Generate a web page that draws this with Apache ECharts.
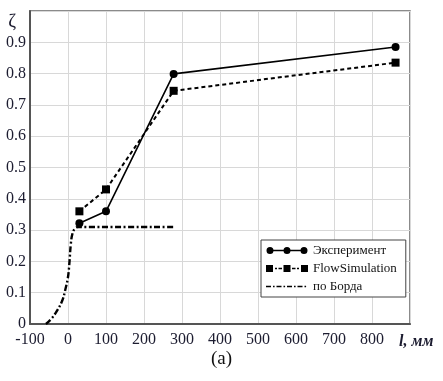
<!DOCTYPE html>
<html>
<head>
<meta charset="utf-8">
<script src="https://cdn.jsdelivr.net/npm/echarts@6/dist/echarts.min.js"></script>
<style>
html,body{margin:0;padding:0;background:#fff;}
#c{width:443px;height:381px;}
</style>
</head>
<body>
<div id="c"></div>
<script>
var expX = [30, 100, 278, 862];
var expY = [0.322, 0.36, 0.799, 0.885];
var flowX = [30, 100, 278, 862];
var flowY = [0.36, 0.43, 0.745, 0.835];
var bordaX = [-58, -45, -30, -15, -7, 0, 4, 7, 11, 18, 28, 280];
var bordaY = [0, 0.015, 0.04, 0.075, 0.11, 0.15, 0.2, 0.25, 0.285, 0.305, 0.31, 0.31];
var seriesNames = ['Эксперимент', 'FlowSimulation', 'по Борда'];
var xTicks = {min: -100, max: 900, step: 100};
var yTicks = {min: 0, max: 1, step: 0.1};

function zip(a, b) { return a.map(function (v, i) { return [v, b[i]]; }); }

var corners = 'M0,0h0.01v0.01h-0.01Z M41.99,7.99h0.01v0.01h-0.01Z ';
function circ(cx, cy, r) {
  return 'M' + (cx - r) + ',' + cy + ' a' + r + ',' + r + ' 0 1,1 ' + (2 * r) + ',0 a' + r + ',' + r + ' 0 1,1 ' + (-2 * r) + ',0 Z ';
}
function rect(x, y, w, h) { return 'M' + x + ',' + y + 'h' + w + 'v' + h + 'h' + (-w) + 'Z '; }
var iconExp = 'path://' + corners + circ(4, 4, 3.5) + circ(21, 4, 3.5) + circ(38, 4, 3.5) + rect(4, 3.3, 34, 1.4);
var iconFlow = 'path://' + corners + rect(0, 0.5, 7, 7) + rect(17.5, 0.5, 7, 7) + rect(35, 0.5, 7, 7)
  + rect(9, 3.2, 2, 1.6) + rect(12.5, 3.2, 3.5, 1.6) + rect(26, 3.2, 3.5, 1.6) + rect(31, 3.2, 2, 1.6);
var iconBorda = 'path://' + corners + rect(0, 3.2, 5, 1.6) + rect(7, 3.2, 1.6, 1.6) + rect(10.5, 3.2, 5, 1.6)
  + rect(17.5, 3.2, 1.6, 1.6) + rect(21, 3.2, 5, 1.6) + rect(28, 3.2, 1.6, 1.6) + rect(31.5, 3.2, 5, 1.6) + rect(38.5, 3.2, 1.6, 1.6);

var serif = 'Liberation Serif';
var labelColor = '#1c1c30';

var chart = echarts.init(document.getElementById('c'), null, {renderer: 'canvas'});
chart.setOption({
  animation: false,
  backgroundColor: '#fff',
  title: {
    text: '(a)', left: 206, top: 345,
    textStyle: {fontFamily: serif, fontSize: 19, fontWeight: 'normal', color: '#111'}
  },
  grid: {left: 30, right: 33, top: 11, bottom: 57, outerBoundsMode: 'none', containLabel: false,
    show: true, borderColor: '#666', borderWidth: 1.5, backgroundColor: 'transparent'},
  legend: {
    orient: 'vertical', left: 261, top: 240,
    padding: [4, 9, 4, 5], itemGap: 5, itemWidth: 42, itemHeight: 8,
    borderColor: '#444', borderWidth: 1, backgroundColor: '#fff',
    textStyle: {fontFamily: serif, fontSize: 13, color: '#111', lineHeight: 13},
    data: [
      {name: seriesNames[0], icon: iconExp},
      {name: seriesNames[1], icon: iconFlow},
      {name: seriesNames[2], icon: iconBorda}
    ]
  },
  xAxis: {
    type: 'value', min: xTicks.min, max: xTicks.max, interval: xTicks.step,
    name: 'l, мм', nameLocation: 'end', nameGap: -11,
    nameTextStyle: {fontFamily: serif, fontSize: 16, fontStyle: 'italic', fontWeight: 'bold', color: labelColor, align: 'left', verticalAlign: 'top', padding: [10, 0, 0, 0]},
    axisLine: {show: true, onZero: false, lineStyle: {color: '#555', width: 2}},
    axisTick: {show: false},
    axisLabel: {fontFamily: serif, fontSize: 16, color: labelColor, margin: 8,
      formatter: function (v) { return v >= xTicks.max ? '' : (v < 0 ? '-' + Math.abs(v) : String(v)); }},
    splitLine: {show: true, lineStyle: {color: '#d8d8d8', width: 1}}
  },
  yAxis: {
    type: 'value', min: yTicks.min, max: yTicks.max, interval: yTicks.step,
    name: 'ζ', nameLocation: 'end', nameGap: -2,
    nameTextStyle: {fontFamily: serif, fontSize: 19, color: labelColor, align: 'right', verticalAlign: 'top', padding: [0, 14, 0, 0]},
    axisLine: {show: true, onZero: false, lineStyle: {color: '#555', width: 2}},
    axisTick: {show: false},
    axisLabel: {fontFamily: serif, fontSize: 16, color: labelColor, margin: 4,
      formatter: function (v) { return Math.abs(v - 1) < 1e-9 ? '' : String(+v.toFixed(1)); }},
    splitLine: {show: true, lineStyle: {color: '#d8d8d8', width: 1}}
  },
  series: [
    {
      name: seriesNames[0], type: 'line', data: zip(expX, expY),
      symbol: 'circle', symbolSize: 8, color: '#000',
      lineStyle: {color: '#000', width: 1.6},
      itemStyle: {color: '#000'}, z: 4
    },
    {
      name: seriesNames[1], type: 'line', data: zip(flowX, flowY),
      symbol: 'rect', symbolSize: 8, color: '#000',
      lineStyle: {color: '#000', width: 2, type: [4, 3]},
      itemStyle: {color: '#000'}, z: 3
    },
    {
      name: seriesNames[2], type: 'line', data: zip(bordaX, bordaY),
      symbol: 'none', showSymbol: false, color: '#000', smooth: 0.4,
      lineStyle: {color: '#000', width: 2.4, type: [6, 2.5, 2, 2.5]},
      itemStyle: {color: '#000'}, z: 2
    }
  ]
});
</script>
</body>
</html>
